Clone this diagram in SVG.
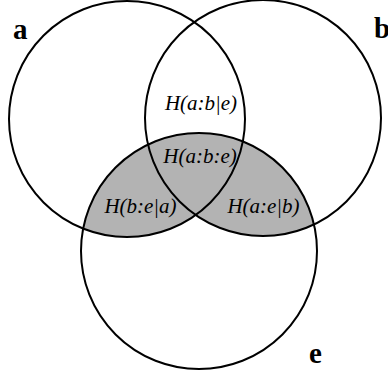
<svg xmlns="http://www.w3.org/2000/svg" width="388" height="375" viewBox="0 0 388 375">
<style>
.c{fill:none;stroke:#000;stroke-width:2}
.sh{fill:#b3b3b3;stroke:none}
.set{font-family:"Liberation Serif","Times New Roman",serif;font-weight:bold;font-size:29px;fill:#000}
.lbl{font-family:"Liberation Serif","Times New Roman",serif;font-style:italic;font-size:21px;fill:#000;text-anchor:middle}
</style>
<defs>
<clipPath id="clipE"><circle cx="199" cy="251" r="118"/></clipPath>
</defs>
<rect width="388" height="375" fill="#fff"/>
<g id="shading" clip-path="url(#clipE)">
<circle class="sh" cx="127" cy="119" r="118"/>
<circle class="sh" cx="263" cy="118" r="118"/>
</g>
<g id="node-a">
<circle class="c" cx="127" cy="119" r="118"/>
<text class="set" x="13" y="39">a</text>
</g>
<g id="node-b">
<circle class="c" cx="263" cy="118" r="118"/>
<text class="set" x="374" y="37.5">b</text>
</g>
<g id="node-e">
<circle class="c" cx="199" cy="251" r="118"/>
<text class="set" x="309" y="363">e</text>
</g>
<g id="regions">
<text class="lbl" x="201" y="110">H(a:b|e)</text>
<text class="lbl" x="200" y="163">H(a:b:e)</text>
<text class="lbl" x="140.5" y="213">H(b:e|a)</text>
<text class="lbl" x="263.5" y="213">H(a:e|b)</text>
</g>
</svg>
